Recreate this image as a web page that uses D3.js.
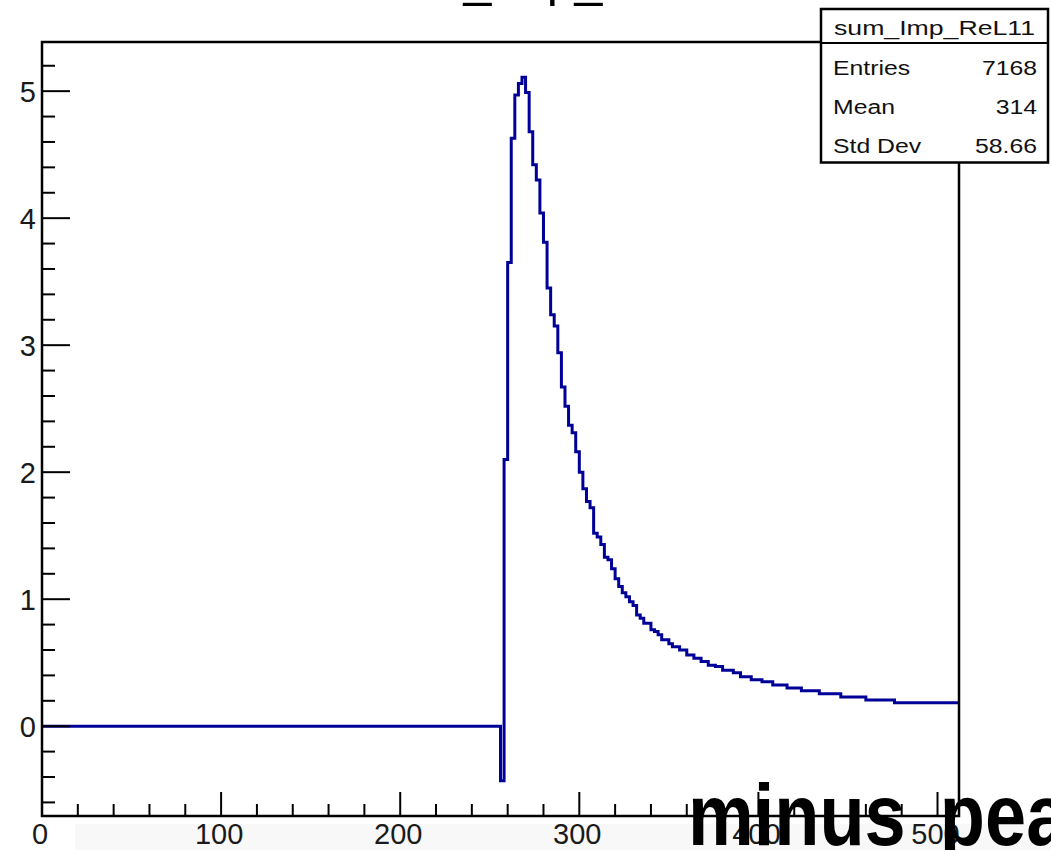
<!DOCTYPE html>
<html>
<head>
<meta charset="utf-8">
<script src="https://cdn.jsdelivr.net/npm/d3@7"></script>
<style>
  html, body { margin: 0; padding: 0; background: #ffffff; }
  svg { display: block; }
  text { font-family: "Liberation Sans", Arial, Helvetica, sans-serif; }
</style>
</head>
<body>
<script>
// ---------------- data ----------------
const histName = "sum_Imp_ReL11";
const binWidth = 2;             // histogram bin width (x units)
const xRange = [0, 512];
// 256 bins covering 0..512
const baselineValues = [
  0,0,0,0,0,0,0,0,0,0,0,0,0,0,0,0,
  0,0,0,0,0,0,0,0,0,0,0,0,0,0,0,0,
  0,0,0,0,0,0,0,0,0,0,0,0,0,0,0,0,
  0,0,0,0,0,0,0,0,0,0,0,0,0,0,0,0,
  0,0,0,0,0,0,0,0,0,0,0,0,0,0,0,0,
  0,0,0,0,0,0,0,0,0,0,0,0,0,0,0,0,
  0,0,0,0,0,0,0,0,0,0,0,0,0,0,0,0,
  0,0,0,0,0,0,0,0,0,0,0,0,0,0,0,0
];
const dipValue = [-0.43];
const pulseValues = [
  2.10, 3.65, 4.63, 4.97, 5.06, 5.11, 4.99, 4.68, 4.42, 4.30, 4.04, 3.81, 3.45, 3.24, 3.15, 2.94,
  2.67, 2.52, 2.37, 2.31, 2.16, 2.00,
  1.87, 1.77, 1.72, 1.52, 1.49, 1.43, 1.33, 1.31, 1.24, 1.16, 1.10, 1.05, 1.02, 0.98, 0.95, 0.875, 0.85,
  0.81, 0.81, 0.76, 0.745, 0.72, 0.68, 0.68, 0.65, 0.626, 0.626, 0.60, 0.60, 0.56, 0.56, 0.535, 0.535, 0.51, 0.51, 0.48, 0.48,
  0.47, 0.47, 0.44, 0.44, 0.44, 0.42, 0.42, 0.39, 0.39, 0.39, 0.365, 0.365, 0.365, 0.35, 0.35, 0.35, 0.325, 0.325, 0.325, 0.325,
  0.30, 0.30, 0.30, 0.30, 0.28, 0.28, 0.28, 0.28, 0.28, 0.255, 0.255, 0.255, 0.255, 0.255, 0.255,
  0.23, 0.23, 0.23, 0.23, 0.23, 0.23, 0.23, 0.206, 0.206, 0.206, 0.206, 0.206, 0.206, 0.206, 0.206,
  0.185, 0.185, 0.185, 0.185, 0.185, 0.185, 0.185, 0.185, 0.185, 0.185, 0.185, 0.185, 0.185, 0.185, 0.185, 0.185, 0.185, 0.185
];
const yRange = [-0.707, 5.387];
const xMajorTicks = [0, 100, 200, 300, 400, 500];
const xMinorTicks = d3.range(0, 512, 20);
const yMajorTicks = [0, 1, 2, 3, 4, 5];
const yMinorTicks = d3.range(-0.6, 5.39, 0.2);
const statLabels = ["Entries", "Mean", "Std Dev"];
const statValues = ["7168", "314", "58.66"];
const overlayText = "minus pea";

// ---------------- layout ----------------
const W = 1051, H = 850;
const frame = { left: 42, top: 42, right: 959, bottom: 816 };
const histColor = "#000099";

const values = baselineValues.concat(dipValue, pulseValues);

const x = d3.scaleLinear().domain(xRange).range([frame.left, frame.right]);
const y = d3.scaleLinear().domain(yRange).range([frame.bottom, frame.top]);

const svg = d3.select("body").append("svg").attr("width", W).attr("height", H);
svg.append("rect").attr("width", W).attr("height", H).attr("fill", "#ffffff");

// faint slide background below the axis
svg.append("rect").attr("x", 75).attr("y", 824).attr("width", W - 75).attr("height", H - 824)
  .attr("fill", "#f8f8f8");

// title (mostly cut off at the top)
svg.append("text").attr("x", 369).attr("y", -4).attr("font-size", 50).attr("fill", "#000")
  .text(histName);

// frame background
svg.append("rect").attr("x", frame.left).attr("y", frame.top)
  .attr("width", frame.right - frame.left).attr("height", frame.bottom - frame.top)
  .attr("fill", "#ffffff");

// histogram step outline
const pts = [];
values.forEach((v, i) => {
  const x0 = xRange[0] + i * binWidth, x1 = x0 + binWidth;
  pts.push([x0, v]); pts.push([x1, v]);
});
const line = d3.line().x(d => x(d[0])).y(d => y(d[1]));
svg.append("path").attr("d", line(pts)).attr("fill", "none")
  .attr("stroke", histColor).attr("stroke-width", 3).attr("stroke-linejoin", "miter");

// frame
svg.append("rect").attr("x", frame.left).attr("y", frame.top)
  .attr("width", frame.right - frame.left).attr("height", frame.bottom - frame.top)
  .attr("fill", "none").attr("stroke", "#000").attr("stroke-width", 2.5);

// x ticks (inside)
const gx = svg.append("g").attr("stroke", "#000").attr("stroke-width", 2);
xMinorTicks.forEach(t => {
  const major = xMajorTicks.includes(t);
  gx.append("line").attr("x1", x(t)).attr("x2", x(t))
    .attr("y1", frame.bottom).attr("y2", frame.bottom - (major ? 24 : 12));
});
svg.append("g").selectAll("text").data(xMajorTicks).join("text")
  .attr("x", d => x(d) - 2).attr("y", 844).attr("text-anchor", "middle")
  .attr("font-size", 29).attr("fill", "#1a1a1a").text(d => d);

// y ticks (inside)
const gy = svg.append("g").attr("stroke", "#000").attr("stroke-width", 2);
yMinorTicks.forEach(t => {
  const major = yMajorTicks.some(m => Math.abs(m - t) < 1e-6);
  gy.append("line").attr("x1", frame.left).attr("x2", frame.left + (major ? 28 : 13))
    .attr("y1", y(t)).attr("y2", y(t));
});
svg.append("g").selectAll("text").data(yMajorTicks).join("text")
  .attr("x", 36).attr("y", d => y(d) + 11).attr("text-anchor", "end")
  .attr("font-size", 29).attr("fill", "#1a1a1a").text(d => d);

// stats box
const box = { left: 821, top: 9, right: 1048, bottom: 162.5, sep: 43 };
svg.append("rect").attr("x", box.left).attr("y", box.top)
  .attr("width", box.right - box.left).attr("height", box.bottom - box.top)
  .attr("fill", "#ffffff").attr("stroke", "#000").attr("stroke-width", 2.5);
svg.append("line").attr("x1", box.left).attr("x2", box.right)
  .attr("y1", box.sep).attr("y2", box.sep).attr("stroke", "#000").attr("stroke-width", 2);
const sx = 1.18;
svg.append("text").attr("transform", `translate(${(box.left + box.right) / 2},35) scale(1.27,1)`)
  .attr("text-anchor", "middle").attr("font-size", 21).attr("fill", "#111").text(histName);
const rowsY = [75, 113.5, 152.5];
statLabels.forEach((s, i) => {
  svg.append("text").attr("transform", `translate(833,${rowsY[i]}) scale(${sx},1)`)
    .attr("font-size", 21).attr("fill", "#111").text(s);
  svg.append("text").attr("transform", `translate(1037,${rowsY[i]}) scale(${sx},1)`)
    .attr("text-anchor", "end").attr("font-size", 21).attr("fill", "#111").text(statValues[i]);
});

// overlay text from the slide
svg.append("text").attr("transform", "translate(688,845) scale(0.85,1)")
  .attr("font-size", 87).attr("font-weight", "bold").attr("fill", "#000")
  .attr("word-spacing", 16).text(overlayText);
</script>
</body>
</html>
